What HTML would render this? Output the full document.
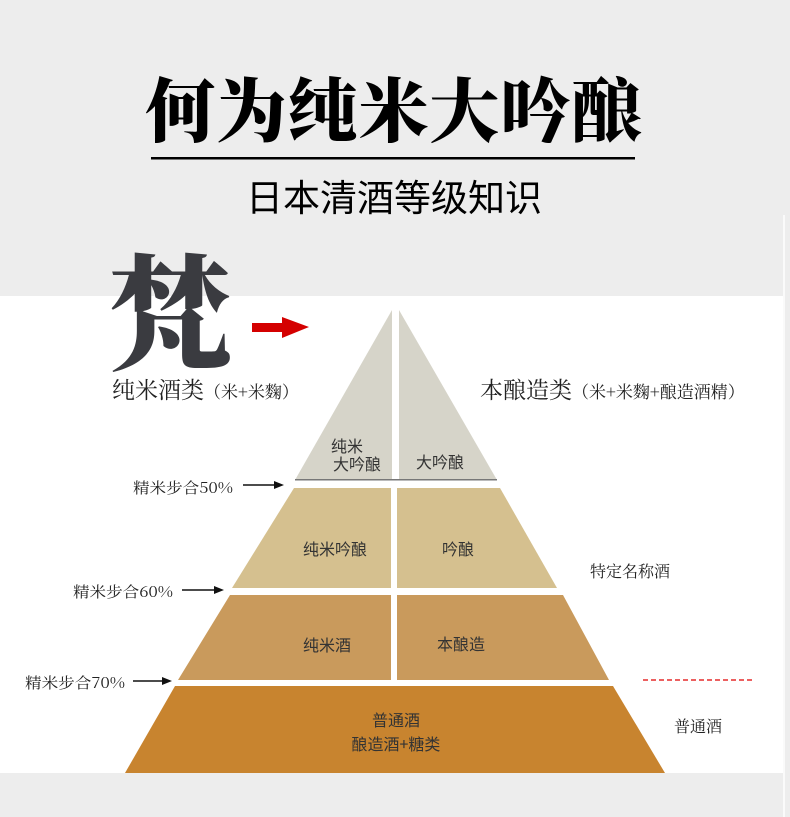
<!DOCTYPE html>
<html><head><meta charset="utf-8"><style>
html,body{margin:0;padding:0;background:#ededed;}
body{width:790px;height:817px;position:relative;overflow:hidden;font-family:"Liberation Sans","Noto Sans CJK SC",sans-serif;}
</style></head><body>
<svg width="790" height="817" xmlns="http://www.w3.org/2000/svg" style="position:absolute;left:0;top:0">
<rect x="0" y="0" width="790" height="817" fill="#ededed"/>
<rect x="0" y="296" width="783" height="477" fill="#ffffff"/>
<rect x="783" y="215" width="2" height="602" fill="#fafafa"/>
<text x="394" y="136" text-anchor="middle" font-family="Noto Serif CJK SC, serif" font-weight="900" font-size="70" fill="#000" letter-spacing="1">何为纯米大吟酿</text>
<rect x="151" y="157" width="484" height="2.5" fill="#000"/>
<text x="394" y="211" text-anchor="middle" font-family="Noto Sans CJK SC, sans-serif" font-size="37" fill="#000" letter-spacing="0">日本清酒等级知识</text>
<text x="170" y="360" text-anchor="middle" font-family="Noto Serif CJK SC, serif" font-weight="900" font-size="126" fill="#3a3b40">梵</text>
<polygon points="252,323 282,323 282,317 309,327 282,338 282,332 252,332" fill="#d40000"/>
<text x="112" y="398" font-family="Noto Serif CJK SC, serif" font-size="23" fill="#222">纯米酒类<tspan font-size="17">（米+米麴）</tspan></text>
<text x="480" y="398" font-family="Noto Serif CJK SC, serif" font-size="23" fill="#222">本酿造类<tspan font-size="17">（米+米麴+酿造酒精）</tspan></text>
<!-- tier1 -->
<polygon points="392,310 392,480 295,480" fill="#d6d4c9"/>
<polygon points="399,310 399,480 497,480" fill="#d6d4c9"/>
<rect x="295" y="479" width="202" height="1.5" fill="#777"/>
<!-- tier2 -->
<polygon points="294,488 391,488 391,588 232,588" fill="#d5c08f"/>
<polygon points="397,488 500,488 557,588 397,588" fill="#d5c08f"/>
<!-- tier3 -->
<polygon points="230,595 391,595 391,680 178,680" fill="#c99a5c"/>
<polygon points="397,595 563,595 609,680 397,680" fill="#c99a5c"/>
<!-- tier4 -->
<polygon points="175,686 613,686 665,773 125,773" fill="#c8842f"/>
<g font-family="Noto Sans CJK SC, sans-serif" font-size="16" fill="#333" text-anchor="middle">
<text x="347" y="452">纯米</text><text x="357" y="470">大吟酿</text>
<text x="440" y="468">大吟酿</text>
<text x="335" y="555">纯米吟酿</text>
<text x="458" y="555">吟酿</text>
<text x="327" y="651">纯米酒</text>
<text x="461" y="650">本酿造</text>
<text x="396" y="726">普通酒</text>
<text x="396" y="750">酿造酒+糖类</text>
</g>
<g font-family="Noto Serif CJK SC, serif" font-size="15" fill="#222">
<text x="133" y="493" textLength="100" lengthAdjust="spacingAndGlyphs">精米步合50%</text>
<text x="73" y="597" textLength="100" lengthAdjust="spacingAndGlyphs">精米步合60%</text>
<text x="25" y="688" textLength="100" lengthAdjust="spacingAndGlyphs">精米步合70%</text>
<text x="590" y="577" font-size="16">特定名称酒</text>
<text x="674" y="732" font-size="16">普通酒</text>
</g>
<g stroke="#111" stroke-width="1.5" fill="#111">
<line x1="243" y1="485" x2="277" y2="485"/><polygon points="284,485 274,481 274,489" stroke="none"/>
<line x1="182" y1="590" x2="217" y2="590"/><polygon points="224,590 214,586 214,594" stroke="none"/>
<line x1="133" y1="681" x2="165" y2="681"/><polygon points="172,681 162,677 162,685" stroke="none"/>
</g>
<line x1="643" y1="680" x2="755" y2="680" stroke="#e00000" stroke-width="1.3" stroke-dasharray="5,3"/>
</svg>
</body></html>
